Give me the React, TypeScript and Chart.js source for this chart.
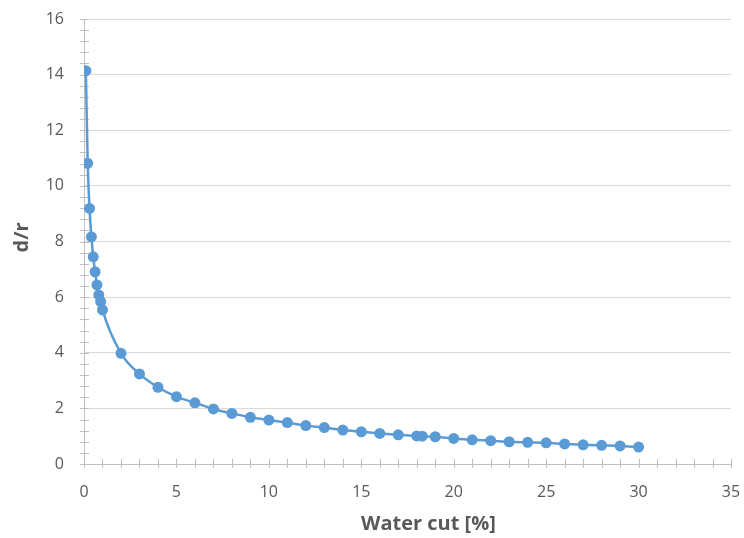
import React, { useEffect, useRef } from "react";
import { Chart, registerables } from "chart.js";

Chart.register(...registerables);

const waterCut: number[] = [
  0.1, 0.2, 0.3, 0.4, 0.5, 0.6, 0.7, 0.8, 0.9, 1.0,
  2, 3, 4, 5, 6, 7, 8, 9, 10, 11, 12, 13, 14, 15, 16, 17, 18, 18.3,
  19, 20, 21, 22, 23, 24, 25, 26, 27, 28, 29, 30,
];
const dOverR: number[] = [
  14.14, 10.81, 9.19, 8.17, 7.45, 6.91, 6.44, 6.08, 5.84, 5.54,
  3.98, 3.24, 2.76, 2.42, 2.2, 1.98, 1.82, 1.68, 1.58, 1.49, 1.38, 1.31, 1.22, 1.16, 1.1, 1.05, 1.01, 1.0,
  0.98, 0.92, 0.87, 0.84, 0.8, 0.78, 0.76, 0.72, 0.69, 0.67, 0.65, 0.61,
];
const xTicksMajor = [0, 5, 10, 15, 20, 25, 30, 35];
const yTicksMajor = [0, 2, 4, 6, 8, 10, 12, 14, 16];
const xMinorStep = 1;
const yMinorStep = 0.4;
const xTitle = "Water cut [%]";
const yTitle = "d/r";

const TEXT = "#595959";
const AXIS = "#BFBFBF";
const GRID = "#D9D9D9";
const BLUE = "#5B9BD5";
const FONT = "'Open Sans', 'Liberation Sans', sans-serif";

const minorTicks = {
  id: "minorTicks",
  beforeDatasetsDraw(chart: any) {
    const ctx = chart.ctx;
    const xs = chart.scales.x;
    const ys = chart.scales.y;
    const x0 = xs.getPixelForValue(xs.min);
    const y0 = ys.getPixelForValue(ys.min);
    ctx.save();
    ctx.strokeStyle = AXIS;
    ctx.lineWidth = 1;
    ctx.beginPath();
    for (let v = xs.min; v <= xs.max + 1e-9; v += xMinorStep) {
      const px = Math.round(xs.getPixelForValue(v)) + 0.5;
      ctx.moveTo(px, y0 - 5);
      ctx.lineTo(px, y0 + 4);
    }
    for (let i = 0; ys.min + i * yMinorStep <= ys.max + 1e-9; i++) {
      const v = ys.min + i * yMinorStep;
      const py = Math.round(ys.getPixelForValue(v)) + 0.5;
      ctx.moveTo(x0 - 4, py);
      ctx.lineTo(x0 + 5, py);
    }
    ctx.stroke();
    ctx.restore();
  },
};

const axisTitles = {
  id: "axisTitles",
  afterDraw(chart: any) {
    const ctx = chart.ctx;
    const a = chart.chartArea;
    ctx.save();
    ctx.fillStyle = TEXT;
    ctx.font = `bold 20px ${FONT}`;
    ctx.textAlign = "center";
    ctx.textBaseline = "middle";
    ctx.fillText(xTitle, (a.left + a.right) / 2 + 21, 524);
    ctx.translate(22, (a.top + a.bottom) / 2 - 4);
    ctx.rotate(-Math.PI / 2);
    ctx.fillText(yTitle, 0, 0);
    ctx.restore();
  },
};

export default function App() {
  const ref = useRef<HTMLCanvasElement | null>(null);
  useEffect(() => {
    if (!ref.current) return;
    const chart = new Chart(ref.current, {
      type: "scatter",
      data: {
        datasets: [
          {
            data: waterCut.map((x, i) => ({ x, y: dOverR[i] })),
            showLine: true,
            borderColor: BLUE,
            backgroundColor: BLUE,
            borderWidth: 2.5,
            pointRadius: 5.5,
            pointHoverRadius: 5.5,
            pointBorderWidth: 0,
            cubicInterpolationMode: "monotone",
          },
        ],
      },
      plugins: [minorTicks, axisTitles],
      options: {
        animation: false,
        responsive: true,
        maintainAspectRatio: false,
        layout: { padding: { top: 19, right: 13, left: 0, bottom: 0 } },
        plugins: { legend: { display: false }, tooltip: { enabled: false } },
        scales: {
          x: {
            type: "linear",
            min: 0,
            max: 35,
            afterFit: (s: any) => {
              s.height = 74;
              s.paddingLeft = 0;
              s.paddingRight = 0;
            },
            afterBuildTicks: (s: any) => {
              s.ticks = xTicksMajor.map((v) => ({ value: v }));
            },
            ticks: { color: TEXT, font: { family: FONT, size: 16 }, padding: 19 },
            grid: { display: false, drawTicks: false },
            border: { display: true, color: AXIS, width: 1 },
            title: { display: false },
          },
          y: {
            type: "linear",
            min: 0,
            max: 16,
            afterFit: (s: any) => {
              s.width = 84;
              s.paddingTop = 0;
              s.paddingBottom = 0;
            },
            afterBuildTicks: (s: any) => {
              s.ticks = yTicksMajor.map((v) => ({ value: v }));
            },
            ticks: { color: TEXT, font: { family: FONT, size: 16 }, padding: 20 },
            grid: { color: GRID, lineWidth: 1, drawTicks: false },
            border: { display: true, color: AXIS, width: 1 },
            title: { display: false },
          },
        },
      },
    } as any);
    return () => chart.destroy();
  }, []);
  return (
    <div style={{ position: "fixed", left: 0, top: 0, width: 744, height: 538, background: "#fff" }}>
      <canvas ref={ref} />
    </div>
  );
}
